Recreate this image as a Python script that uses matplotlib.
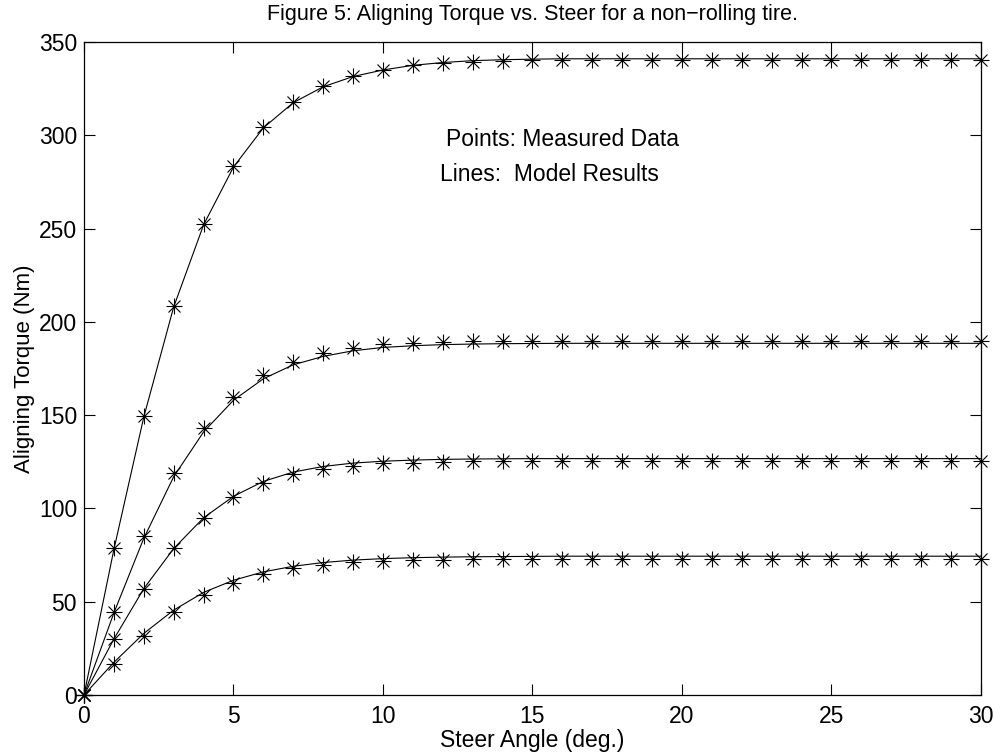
import matplotlib
matplotlib.use("Agg")
import matplotlib.pyplot as plt
import numpy as np

plt.rcParams['font.family'] = ['Liberation Sans', 'DejaVu Sans']

steer = list(range(0, 31))

# Measured data (points)
meas_1 = [0, 78.6, 149.7, 208.5, 252.4, 283.5, 304.3, 317.8, 326.4, 331.8, 335.0,
          337.7, 338.9, 339.5, 339.8, 340.1, 340.2, 340.3, 340.3, 340.3, 340.3,
          340.3, 340.3, 340.3, 340.3, 340.3, 340.3, 340.3, 340.3, 340.3, 340.3]
meas_2 = [0, 44.7, 85.2, 118.8, 142.9, 159.9, 171.5, 178.7, 183.5, 186.2, 188.0,
          188.8, 189.4, 189.7, 189.9, 190.0, 190.0, 190.0, 190.0, 190.0, 190.0,
          190.0, 190.0, 190.0, 190.0, 190.0, 190.0, 190.0, 190.0, 190.0, 190.0]
meas_3 = [0, 29.8, 56.7, 78.6, 94.7, 106.0, 113.8, 118.5, 121.1, 122.9, 124.2,
          124.5, 125.1, 125.4, 125.4, 125.5, 125.5, 125.5, 125.5, 125.5, 125.5,
          125.5, 125.5, 125.5, 125.5, 125.5, 125.5, 125.5, 125.5, 125.5, 125.5]
meas_4 = [0, 16.4, 31.6, 44.3, 53.6, 60.2, 64.9, 67.9, 69.7, 71.1, 71.8,
          72.4, 72.4, 72.7, 72.7, 72.8, 72.8, 72.8, 72.8, 72.8, 72.8,
          72.8, 72.8, 72.8, 72.8, 72.8, 72.8, 72.8, 72.8, 72.8, 72.8]

# Model results (lines)
model_1 = [0, 78, 149, 208, 252, 283, 304, 317.5, 326, 331.5, 335,
           337.5, 339, 340, 340.5, 340.8, 341, 341, 341, 341, 341,
           341, 341, 341, 341, 341, 341, 341, 341, 341, 341]
model_2 = [0, 44, 84, 117, 141, 158, 169.5, 177, 181.5, 184.5, 186.3,
           187.2, 187.8, 188.1, 188.3, 188.4, 188.5, 188.5, 188.5, 188.5, 188.5,
           188.5, 188.5, 188.5, 188.5, 188.5, 188.5, 188.5, 188.5, 188.5, 188.5]
model_3 = [0, 30, 57, 78.5, 95, 106.5, 114.5, 119.5, 122.5, 124.3, 125.3,
           125.9, 126.3, 126.5, 126.6, 126.7, 126.7, 126.7, 126.7, 126.7, 126.7,
           126.7, 126.7, 126.7, 126.7, 126.7, 126.7, 126.7, 126.7, 126.7, 126.7]
model_4 = [0, 17.5, 33, 45.5, 55, 61.5, 66, 69, 71, 72.3, 73.1,
           73.6, 73.9, 74.1, 74.2, 74.3, 74.4, 74.4, 74.4, 74.4, 74.4,
           74.4, 74.4, 74.4, 74.4, 74.4, 74.4, 74.4, 74.4, 74.4, 74.4]

xticks = [0, 5, 10, 15, 20, 25, 30]
yticks = [0, 50, 100, 150, 200, 250, 300, 350]

fig = plt.figure(figsize=(9.95, 7.53), dpi=100)
ax = fig.add_axes([84/995, 1-695/753, (981-84)/995, (695-42)/753])

for m in [model_1, model_2, model_3, model_4]:
    ax.plot(steer, m, color='black', lw=0.8, solid_joinstyle='round')

for d in [meas_1, meas_2, meas_3, meas_4]:
    ax.plot(steer, d, linestyle='none', marker='+', ms=12, mew=0.8, color='black', clip_on=False)
    ax.plot(steer, d, linestyle='none', marker='x', ms=9, mew=0.8, color='black', clip_on=False)
    ax.plot(steer, d, linestyle='none', marker='o', ms=2.5, mew=0, color='black', clip_on=False)

ax.set_xlim(0, 30)
ax.set_ylim(0, 350)
ax.set_xticks(xticks)
ax.set_yticks(yticks)
ax.tick_params(direction='in', length=8, width=0.8, top=True, right=True,
               labelsize=16.5)
ax.tick_params(axis='x', pad=7)
ax.tick_params(axis='y', pad=5)
for s in ax.spines.values():
    s.set_linewidth(0.9)

ax.set_xlabel('Steer Angle (deg.)', fontsize=16.5, labelpad=1)
ax.set_ylabel('Aligning Torque (Nm)', fontsize=16, labelpad=3)
ax.set_title('Figure 5: Aligning Torque vs. Steer for a non\u2212rolling tire.', fontsize=15.5, pad=16)

ax.text(12.1, 298, 'Points: Measured Data', fontsize=16.5, va='center', ha='left')
ax.text(11.9, 279, 'Lines:  Model Results', fontsize=16.5, va='center', ha='left')

fig.savefig('out.png', dpi=100)
